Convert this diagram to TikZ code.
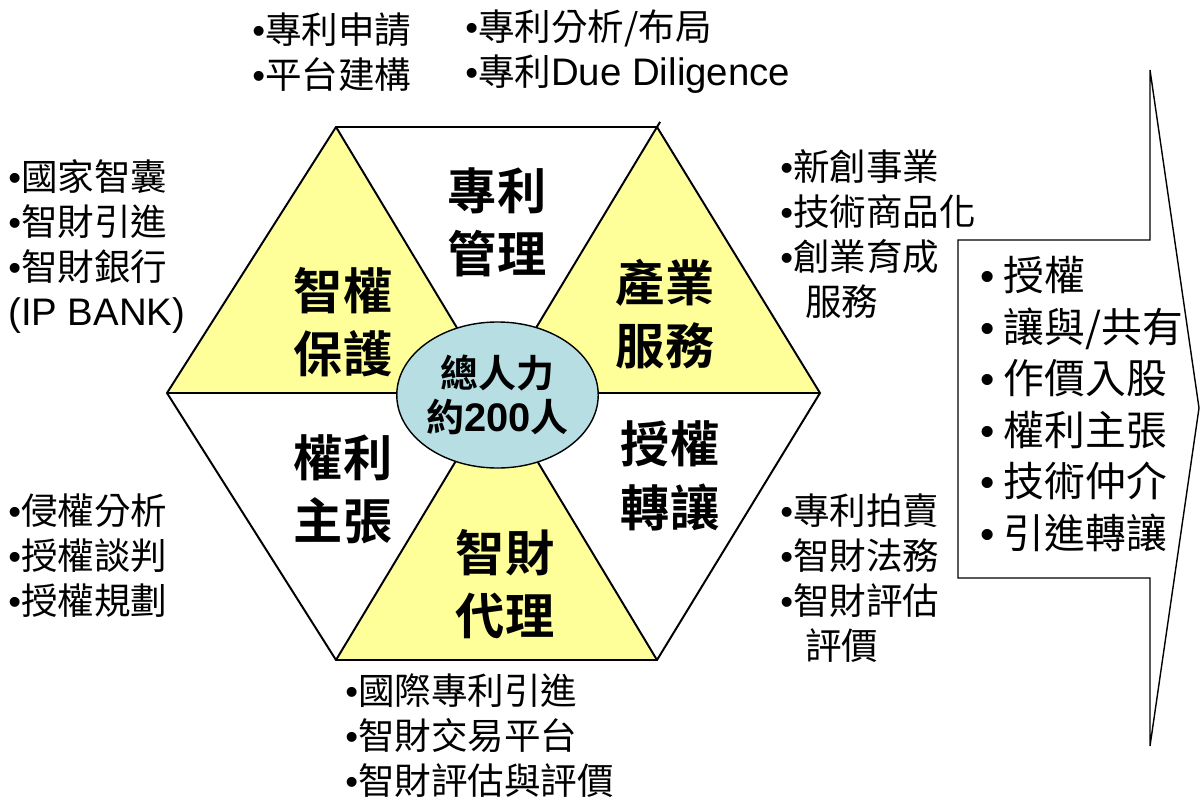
\documentclass[tikz,border=0pt]{standalone}
\usepackage{fontspec}
\setmainfont{Noto Sans CJK TC}[BoldFont={Noto Sans CJK TC Bold}]
\newfontfamily\arial{Liberation Sans}
\newfontfamily\arialwide{Liberation Sans}[Scale=1.05]
\usepackage{tikz}
\usetikzlibrary{positioning,shapes.geometric}
\definecolor{hexyellow}{HTML}{FFFF99}
\definecolor{hubblue}{HTML}{B7DEE3}
\newcommand{\bul}{{\arial\textbullet}}
\newcommand{\lat}[1]{{\arialwide #1}}
\tikzset{
  sector/.style={fill=hexyellow,draw=white,line width=1.5pt},
  hexline/.style={draw=black,line width=1.4pt},
  sectorlabel/.style={align=center,inner sep=0pt,font=\fontsize{35}{45}\selectfont\bfseries},
  notelist/.style={align=left,inner sep=0pt,anchor=west,font=\fontsize{26}{32}\selectfont},
  bigarrow/.style={draw=black,line width=1pt,fill=white}
}
\begin{document}
\begin{tikzpicture}[x=0.025cm,y=-0.025cm]
\useasboundingbox (0,0) rectangle (1201,801);
% \draw[help lines,step=100] (0,0) grid (1201,801);
\coordinate (L) at (167,393);
\coordinate (TL) at (336,127);
\coordinate (TR) at (657,127);
\coordinate (R) at (820,393);
\coordinate (BR) at (657,660);
\coordinate (BL) at (336,660);
\coordinate (O) at (496.5,393);
%
\draw[sector] (TL) -- (L) -- (O) -- cycle;
\draw[sector] (TR) -- (O) -- (R) -- cycle;
\draw[sector] (O) -- (BL) -- (BR) -- cycle;
%
\path[hexline] (L) -- (TL) -- (TR) -- (R) -- (BR) -- (BL) -- cycle;
\path[hexline] (L) -- (R);
\path[hexline] (TL) -- (BR);
\path[hexline,shorten <=-0.15cm] (TR) -- (BL);
%
\node (hub) [ellipse,draw=black,line width=1pt,fill=hubblue,minimum width=5cm,minimum height=3.65cm,inner sep=0pt,
  align=center,font=\fontsize{27}{31}\selectfont\bfseries] at (497.5,395) {總人力\\約\lat{200}人};
%
\node (patent) [sectorlabel] at (497,222) {專利\\管理};
\node (protect) [sectorlabel] at (343,322) {智權\\保護};
\node (industry) [sectorlabel] at (665,314) {產業\\服務};
\node (claim) [sectorlabel] at (343,489) {權利\\主張};
\node (license) [sectorlabel] at (670,476) {授權\\轉讓};
\node (agent) [sectorlabel] at (505,584) {智財\\代理};
%
\node (topA) [notelist] at (252,52) {\bul 專利申請\\\bul 平台建構};
\node (topB) [notelist] at (465,52) {\bul 專利分析/布局\\\bul 專利\lat{Due Diligence}};
\node (leftA) [notelist] at (8,246) {\bul 國家智囊\\\bul 智財引進\\\bul 智財銀行\\\lat{(IP BANK)}};
\node (leftB) [notelist] at (8,556) {\bul 侵權分析\\\bul 授權談判\\\bul 授權規劃};
\node (rightA) [notelist] at (780,234) {\bul 新創事業\\\bul 技術商品化\\\bul 創業育成\\\phantom{\bul}\hspace{0.3cm}服務};
\node (rightB) [notelist] at (780,578) {\bul 專利拍賣\\\bul 智財法務\\\bul 智財評估\\\phantom{\bul}\hspace{0.3cm}評價};
\node (bottom) [notelist] at (345,736) {\bul 國際專利引進\\\bul 智財交易平台\\\bul 智財評估與評價};
%
\coordinate (a1) at (958,240);
\coordinate (a2) at (1150,240);
\coordinate (a3) at (1150,70);
\coordinate (tip) at (1199,408);
\coordinate (a5) at (1150,746);
\coordinate (a6) at (1150,578);
\coordinate (a7) at (958,578);
\path[bigarrow] (a1) -- (a2) -- (a3) -- (tip) -- (a5) -- (a6) -- (a7) -- cycle;
\node (modes) [notelist,font=\fontsize{29}{36.6}\selectfont] at (980,404)
  {\bul\ 授權\\\bul\ 讓與/共有\\\bul\ 作價入股\\\bul\ 權利主張\\\bul\ 技術仲介\\\bul\ 引進轉讓};
\end{tikzpicture}
\end{document}
